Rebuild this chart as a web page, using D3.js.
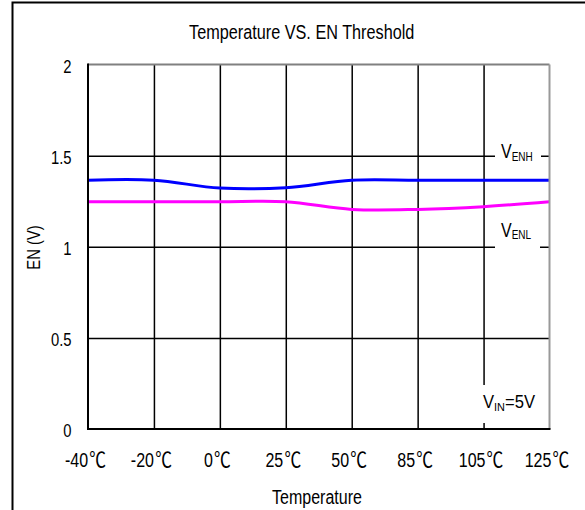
<!DOCTYPE html>
<html>
<head>
<meta charset="utf-8">
<script src="https://cdn.jsdelivr.net/npm/d3@7"></script>
<style>
  html, body { margin: 0; padding: 0; background: #fff; }
  svg { display: block; }
  text { font-family: "Liberation Sans", Arial, sans-serif; fill: #000; }
</style>
</head>
<body>
<svg id="chart" width="585" height="510"></svg>
<script>
// Temperature categories (equally spaced on the axis) and unit suffix
const categories = ["-40", "-20", "0", "25", "50", "85", "105", "125"];
const tempUnit = "℃";

// EN thresholds (V) at each temperature
const venh = [1.365, 1.365, 1.322, 1.324, 1.365, 1.365, 1.365, 1.365];
const venl = [1.247, 1.247, 1.247, 1.247, 1.205, 1.205, 1.220, 1.247];

// Y axis ticks
const yTicks = [0, 0.5, 1, 1.5, 2];
const yTickLabels = ["0", "0.5", "1", "1.5", "2"];

const chartTitle = "Temperature VS. EN Threshold";
const xTitle = "Temperature";
const yTitle = "EN (V)";

const svg = d3.select("#chart");
const plotL = 88, plotR = 549.5, plotT = 64.5, plotB = 429;
const SX = 0.8; // horizontal squeeze for the narrow lettering
const FONT = "'Liberation Sans', Arial, sans-serif";
const CJK = "'Noto Sans CJK SC', 'Noto Sans CJK JP', sans-serif";

const x = d3.scalePoint().domain(categories).range([plotL, plotR]);
const y = d3.scaleLinear().domain([0, 2]).range([plotB, plotT]);

// Outer frame (runs off the right and bottom edges)
svg.append("rect")
  .attr("x", 12.5).attr("y", 2.5)
  .attr("width", 700).attr("height", 700)
  .attr("fill", "none").attr("stroke", "#000").attr("stroke-width", 2);

// Horizontal grid + y tick labels
const gy = svg.append("g")
  .attr("transform", `translate(${plotL},0)`)
  .call(d3.axisLeft(y).tickValues(yTicks)
    .tickFormat((d, i) => yTickLabels[i])
    .tickSize(-(plotR - plotL)).tickPadding(0));
gy.select(".domain").remove();
gy.selectAll(".tick line")
  .attr("stroke", "#000").attr("stroke-width", 1.5)
  .filter(d => d === 0 || d === 2).remove();
gy.selectAll(".tick text")
  .attr("x", 0).attr("dy", "0.42em")
  .attr("font-size", 18.5).attr("font-family", FONT)
  .attr("text-anchor", "end")
  .attr("transform", `translate(-16.5,0) scale(${SX},1)`);

// Vertical grid + x tick labels
const gx = svg.append("g")
  .attr("transform", `translate(0,${plotB})`)
  .call(d3.axisBottom(x).tickSize(-(plotB - plotT)).tickPadding(0));
gx.select(".domain").remove();
gx.selectAll(".tick line")
  .attr("stroke", "#000").attr("stroke-width", 1.5)
  .filter((d, i) => i === 0 || i === categories.length - 1).remove();
gx.selectAll(".tick text").each(function (d) {
  const t = d3.select(this).text(null)
    .attr("y", 0).attr("dy", 0)
    .attr("font-size", 20).attr("font-family", FONT)
    .attr("text-anchor", "middle")
    .attr("transform", `translate(-3,38) scale(${SX},1)`);
  t.append("tspan").text(d);
  t.append("tspan").attr("font-family", CJK).attr("font-size", 21)
    .attr("dx", 1.5).text(tempUnit);
});

// White backing boxes for the in-plot labels
const boxes = [
  { x0: 495, x1: 541, y0: 142, y1: 170 },
  { x0: 495, x1: 540, y0: 214, y1: 250 },
  { x0: 477, x1: 542, y0: 385, y1: 423 }
];
svg.append("g").selectAll("rect").data(boxes).join("rect")
  .attr("x", d => d.x0).attr("y", d => d.y0)
  .attr("width", d => d.x1 - d.x0).attr("height", d => d.y1 - d.y0)
  .attr("fill", "#fff");

// Labels with subscripts
function subLabel(px, py, main, sub, tail, size, subSize, sx) {
  const g = svg.append("g").attr("transform", `translate(${px},${py}) scale(${sx},1)`);
  const t = g.append("text").attr("font-size", size).attr("font-family", FONT);
  t.append("tspan").text(main);
  t.append("tspan").attr("font-size", subSize).attr("dy", 2.5).text(sub);
  if (tail) t.append("tspan").attr("dy", -2.5).text(tail);
}
subLabel(501, 158.3, "V", "ENH", null, 20, 12.5, SX);
subLabel(501, 236.7, "V", "ENL", null, 20, 12.5, SX);
subLabel(483, 408.3, "V", "IN", "=5V", 17.5, 11.5, 0.95);

// Series
const line = d3.line()
  .x((d, i) => x(categories[i]))
  .y(d => y(d))
  .curve(d3.curveCatmullRom.alpha(0));

svg.append("path").datum(venl)
  .attr("d", line).attr("fill", "none")
  .attr("stroke", "#ff00ff").attr("stroke-width", 3);
svg.append("path").datum(venh)
  .attr("d", line).attr("fill", "none")
  .attr("stroke", "#0000ff").attr("stroke-width", 3);

// Plot borders: dark axes on left/bottom, grey on top/right
svg.append("line").attr("x1", plotL).attr("x2", plotR).attr("y1", plotT).attr("y2", plotT)
  .attr("stroke", "#808080").attr("stroke-width", 2);
svg.append("line").attr("x1", plotR).attr("x2", plotR).attr("y1", plotT).attr("y2", plotB)
  .attr("stroke", "#999").attr("stroke-width", 2);
svg.append("line").attr("x1", plotL).attr("x2", plotL).attr("y1", plotT - 1).attr("y2", plotB + 1)
  .attr("stroke", "#000").attr("stroke-width", 2);
svg.append("line").attr("x1", plotL - 1).attr("x2", plotR + 1).attr("y1", plotB).attr("y2", plotB)
  .attr("stroke", "#000").attr("stroke-width", 2);

// Titles
function squeezed(px, py, str, size, rotate) {
  const g = svg.append("g")
    .attr("transform", `translate(${px},${py})${rotate ? " rotate(-90)" : ""} scale(${SX},1)`);
  g.append("text").attr("text-anchor", "middle")
    .attr("font-size", size).attr("font-family", FONT).text(str);
}
squeezed(301.7, 39, chartTitle, 20.3, false);
squeezed(317, 504.3, xTitle, 20, false);
squeezed(40, 247.5, yTitle, 18.5, true);
</script>
</body>
</html>
